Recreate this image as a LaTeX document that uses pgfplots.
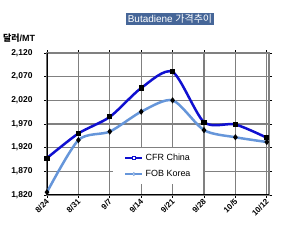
\documentclass[border=0pt]{standalone}
\usepackage{pgfplots}
\pgfplotsset{compat=1.18}
\usepackage{fontspec}
\setmainfont{Liberation Sans}
\newfontfamily\kr{Noto Sans CJK KR}
\definecolor{cfr}{RGB}{16,16,208}
\definecolor{fob}{RGB}{102,150,218}
\definecolor{titlebg}{RGB}{70,102,152}
\definecolor{gridc}{RGB}{128,128,128}
\begin{document}
\begin{tikzpicture}
\useasboundingbox (0,0) rectangle (308bp,244bp);
\node[fill=titlebg, text=white, inner xsep=2bp, inner ysep=1.5bp, font=\fontsize{10}{11}\selectfont] at (170bp,225bp) {Butadiene {\kr 가격추이}};
\node[anchor=west, font=\fontsize{9}{10}\selectfont\bfseries, inner sep=0] at (3bp,206bp) {{\kr\bfseries 달러}/MT};
\begin{axis}[
  at={(47bp,49bp)}, anchor=south west,
  scale only axis, width=222bp, height=142bp,
  xmin=0, xmax=7.07, ymin=1820, ymax=2120,
  xtick={0,...,7},
  xticklabels={8/24,8/31,9/7,9/14,9/21,9/28,10/5,10/12},
  ytick={1820,1870,...,2120},
  /pgf/number format/assume math mode=true,
  /pgf/number format/1000 sep={,},
  yticklabel style={font=\fontsize{8.5}{9}\selectfont\bfseries, xshift=-8bp},
  xticklabel style={font=\fontsize{8}{9}\selectfont\bfseries, rotate=45, anchor=east, yshift=-2bp, inner sep=1pt},
  grid=major,
  major grid style={gridc, line width=1.3bp},
  axis line style={gridc, line width=1.3bp},
  tick style={black, line width=0.8bp},
  tick align=outside, major tick length=3bp,
  legend style={at={(0.297,0.331)}, anchor=north west, fill=white, draw=none,
    font=\fontsize{9}{10}\selectfont, inner xsep=11bp, inner ysep=4bp, row sep=4bp},
  legend cell align=left,
]
\addlegendimage{cfr, line width=2.5bp, mark=square*, mark options={fill=white, draw=cfr, line width=1bp, scale=0.8}}
\addlegendentry{CFR China}
\addlegendimage{fob, line width=2.5bp, mark=diamond*, mark options={fill=white, draw=fob, line width=0.6bp, scale=0.8}}
\addlegendentry{FOB Korea}
\draw[black, line width=1.3bp] (axis cs:0,1820) -- (axis cs:0,2120);
\draw[black, line width=1.3bp] (axis cs:0,1820) -- (axis cs:7.07,1820);
\addplot[forget plot, cfr, line width=2.5bp, smooth, tension=0.45, mark=square*, mark options={fill=black, draw=black, scale=0.65}] coordinates {
(0,1898) (1,1950) (2,1985) (3,2046) (4,2080) (5,1974) (6,1969) (7,1941)};
\addplot[forget plot, fob, line width=2.5bp, smooth, tension=0.45, mark=diamond*, mark options={fill=black, draw=black, scale=0.55}] coordinates {
(0,1826) (1,1936) (2,1954) (3,1996) (4,2020) (5,1957) (6,1942) (7,1932)};
\end{axis}
\end{tikzpicture}
\end{document}
